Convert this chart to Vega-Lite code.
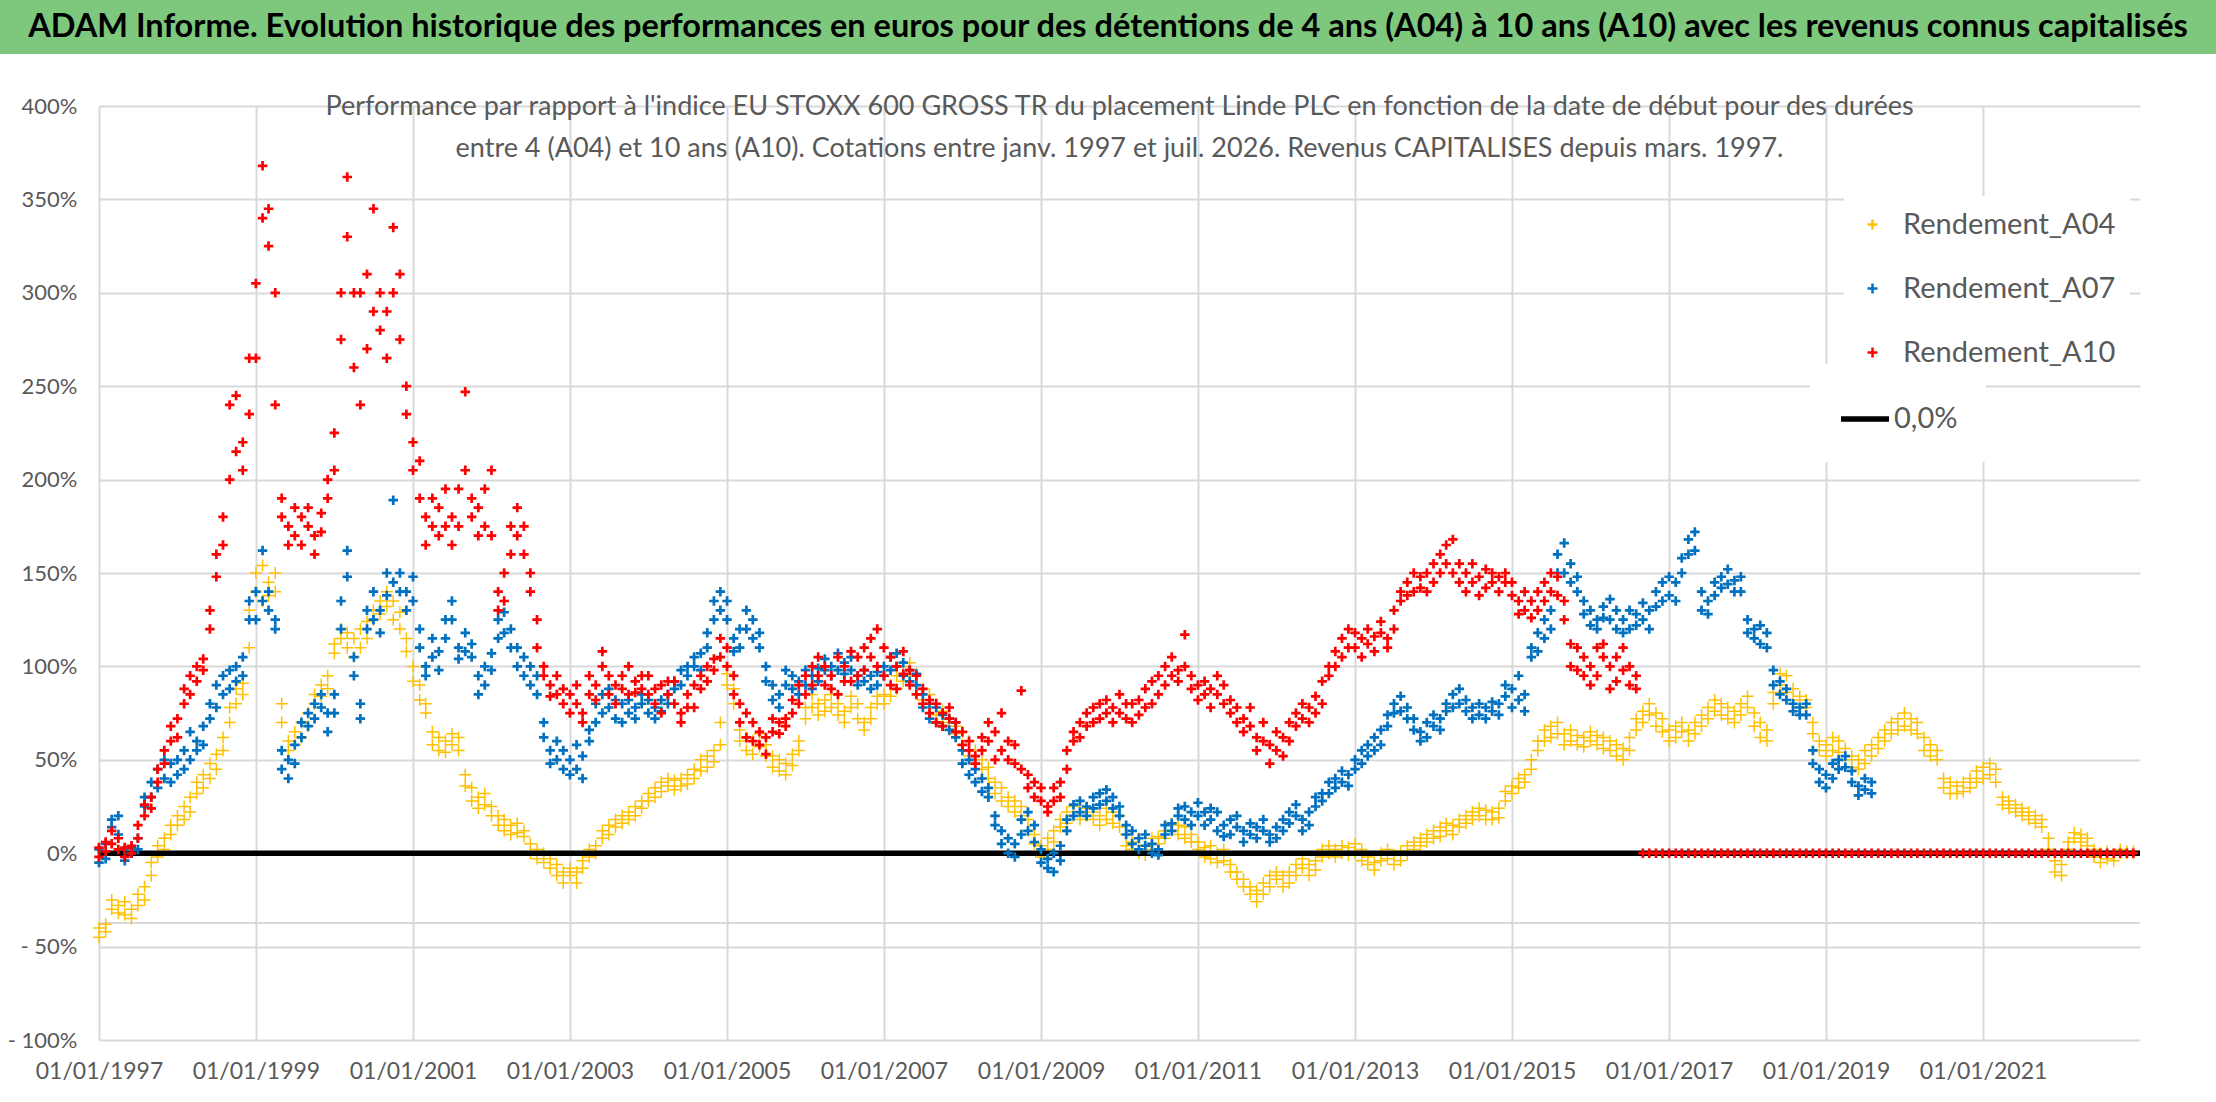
{
  "$schema": "https://vega.github.io/schema/vega-lite/v6.json",
  "background": "white",
  "padding": 0,
  "spacing": 39,
  "config": {"view": {"stroke": null}, "font": "Lato"},
  "datasets": {
    "perf": [
      {"m":"1997-01","a":-45,"a2":-40,"b":2,"b2":-5,"c":3,"c2":-2},
      {"m":"1997-02","a":-38,"a2":-42,"b":5,"b2":-3,"c":6,"c2":1},
      {"m":"1997-03","a":-30,"a2":-25,"b":18,"b2":14,"c":12,"c2":5},
      {"m":"1997-04","a":-28,"a2":-32,"b":20,"b2":10,"c":2,"c2":8},
      {"m":"1997-05","a":-26,"a2":-33,"b":2,"b2":-4,"c":-2,"c2":3},
      {"m":"1997-06","a":-30,"a2":-35,"b":3,"b2":0,"c":4,"c2":0},
      {"m":"1997-07","a":-28,"a2":-22,"b":8,"b2":2,"c":15,"c2":8},
      {"m":"1997-08","a":-25,"a2":-18,"b":25,"b2":30,"c":26,"c2":20},
      {"m":"1997-09","a":-12,"a2":-5,"b":30,"b2":38,"c":30,"c2":24},
      {"m":"1997-10","a":-2,"a2":4,"b":35,"b2":45,"c":45,"c2":38},
      {"m":"1997-11","a":2,"a2":8,"b":50,"b2":40,"c":55,"c2":48},
      {"m":"1997-12","a":10,"a2":15,"b":48,"b2":38,"c":68,"c2":60},
      {"m":"1998-01","a":15,"a2":20,"b":50,"b2":42,"c":72,"c2":62},
      {"m":"1998-02","a":18,"a2":25,"b":55,"b2":45,"c":88,"c2":80},
      {"m":"1998-03","a":22,"a2":30,"b":65,"b2":50,"c":95,"c2":85},
      {"m":"1998-04","a":32,"a2":38,"b":60,"b2":55,"c":100,"c2":92},
      {"m":"1998-05","a":35,"a2":42,"b":68,"b2":58,"c":104,"c2":98},
      {"m":"1998-06","a":40,"a2":48,"b":80,"b2":72,"c":130,"c2":120},
      {"m":"1998-07","a":45,"a2":53,"b":90,"b2":78,"c":160,"c2":148},
      {"m":"1998-08","a":55,"a2":62,"b":95,"b2":85,"c":180,"c2":165},
      {"m":"1998-09","a":70,"a2":78,"b":98,"b2":88,"c":200,"c2":240},
      {"m":"1998-10","a":80,"a2":88,"b":100,"b2":92,"c":215,"c2":245},
      {"m":"1998-11","a":85,"a2":91,"b":105,"b2":95,"c":205,"c2":220},
      {"m":"1998-12","a":110,"a2":130,"b":125,"b2":135,"c":235,"c2":265},
      {"m":"1999-01","a":140,"a2":150,"b":140,"b2":125,"c":265,"c2":305},
      {"m":"1999-02","a":135,"a2":154,"b":135,"b2":162,"c":340,"c2":368},
      {"m":"1999-03","a":145,"a2":138,"b":130,"b2":140,"c":325,"c2":345},
      {"m":"1999-04","a":150,"a2":140,"b":125,"b2":120,"c":240,"c2":300},
      {"m":"1999-05","a":80,"a2":70,"b":55,"b2":45,"c":180,"c2":190},
      {"m":"1999-06","a":60,"a2":55,"b":50,"b2":40,"c":175,"c2":165},
      {"m":"1999-07","a":65,"a2":58,"b":58,"b2":48,"c":185,"c2":170},
      {"m":"1999-08","a":70,"a2":62,"b":62,"b2":70,"c":165,"c2":180},
      {"m":"1999-09","a":75,"a2":68,"b":68,"b2":75,"c":175,"c2":185},
      {"m":"1999-10","a":85,"a2":80,"b":80,"b2":72,"c":170,"c2":160},
      {"m":"1999-11","a":90,"a2":84,"b":78,"b2":85,"c":182,"c2":172},
      {"m":"1999-12","a":95,"a2":88,"b":75,"b2":65,"c":190,"c2":200},
      {"m":"2000-01","a":107,"a2":112,"b":85,"b2":75,"c":205,"c2":225},
      {"m":"2000-02","a":115,"a2":120,"b":120,"b2":135,"c":275,"c2":300},
      {"m":"2000-03","a":110,"a2":118,"b":148,"b2":162,"c":330,"c2":362},
      {"m":"2000-04","a":105,"a2":115,"b":95,"b2":105,"c":300,"c2":260},
      {"m":"2000-05","a":120,"a2":110,"b":80,"b2":72,"c":300,"c2":240},
      {"m":"2000-06","a":124,"a2":115,"b":120,"b2":130,"c":310,"c2":270},
      {"m":"2000-07","a":125,"a2":130,"b":125,"b2":140,"c":345,"c2":290},
      {"m":"2000-08","a":135,"a2":128,"b":130,"b2":118,"c":280,"c2":300},
      {"m":"2000-09","a":140,"a2":132,"b":138,"b2":150,"c":265,"c2":290},
      {"m":"2000-10","a":135,"a2":125,"b":145,"b2":189,"c":300,"c2":335},
      {"m":"2000-11","a":120,"a2":129,"b":150,"b2":140,"c":310,"c2":275},
      {"m":"2000-12","a":115,"a2":108,"b":140,"b2":130,"c":250,"c2":235},
      {"m":"2001-01","a":100,"a2":92,"b":148,"b2":135,"c":220,"c2":205},
      {"m":"2001-02","a":90,"a2":82,"b":120,"b2":110,"c":210,"c2":190},
      {"m":"2001-03","a":80,"a2":75,"b":100,"b2":95,"c":180,"c2":165},
      {"m":"2001-04","a":65,"a2":58,"b":115,"b2":105,"c":190,"c2":175},
      {"m":"2001-05","a":62,"a2":55,"b":108,"b2":98,"c":170,"c2":185},
      {"m":"2001-06","a":60,"a2":54,"b":125,"b2":115,"c":175,"c2":195},
      {"m":"2001-07","a":58,"a2":64,"b":135,"b2":125,"c":165,"c2":180},
      {"m":"2001-08","a":55,"a2":62,"b":110,"b2":104,"c":195,"c2":175},
      {"m":"2001-09","a":42,"a2":36,"b":118,"b2":108,"c":205,"c2":247},
      {"m":"2001-10","a":35,"a2":28,"b":105,"b2":112,"c":190,"c2":180},
      {"m":"2001-11","a":30,"a2":24,"b":95,"b2":85,"c":170,"c2":185},
      {"m":"2001-12","a":32,"a2":26,"b":90,"b2":100,"c":175,"c2":195},
      {"m":"2002-01","a":25,"a2":20,"b":107,"b2":98,"c":205,"c2":170},
      {"m":"2002-02","a":20,"a2":15,"b":125,"b2":115,"c":140,"c2":130},
      {"m":"2002-03","a":18,"a2":12,"b":129,"b2":118,"c":150,"c2":135},
      {"m":"2002-04","a":15,"a2":10,"b":120,"b2":110,"c":160,"c2":175},
      {"m":"2002-05","a":16,"a2":11,"b":110,"b2":100,"c":185,"c2":170},
      {"m":"2002-06","a":12,"a2":9,"b":105,"b2":95,"c":175,"c2":160},
      {"m":"2002-07","a":5,"a2":0,"b":100,"b2":90,"c":150,"c2":140},
      {"m":"2002-08","a":2,"a2":-3,"b":95,"b2":85,"c":125,"c2":110},
      {"m":"2002-09","a":0,"a2":-5,"b":70,"b2":62,"c":100,"c2":95},
      {"m":"2002-10","a":-3,"a2":-8,"b":55,"b2":48,"c":90,"c2":84},
      {"m":"2002-11","a":-6,"a2":-12,"b":60,"b2":50,"c":85,"c2":95},
      {"m":"2002-12","a":-10,"a2":-16,"b":45,"b2":55,"c":88,"c2":80},
      {"m":"2003-01","a":-12,"a2":-8,"b":50,"b2":42,"c":85,"c2":75},
      {"m":"2003-02","a":-16,"a2":-10,"b":58,"b2":45,"c":90,"c2":80},
      {"m":"2003-03","a":-8,"a2":-4,"b":40,"b2":52,"c":75,"c2":70},
      {"m":"2003-04","a":-2,"a2":2,"b":60,"b2":66,"c":85,"c2":95},
      {"m":"2003-05","a":4,"a2":0,"b":70,"b2":80,"c":90,"c2":82},
      {"m":"2003-06","a":8,"a2":12,"b":75,"b2":85,"c":100,"c2":108},
      {"m":"2003-07","a":10,"a2":15,"b":78,"b2":88,"c":95,"c2":85},
      {"m":"2003-08","a":14,"a2":18,"b":72,"b2":82,"c":90,"c2":80},
      {"m":"2003-09","a":20,"a2":16,"b":80,"b2":70,"c":95,"c2":88},
      {"m":"2003-10","a":22,"a2":18,"b":82,"b2":75,"c":85,"c2":100},
      {"m":"2003-11","a":25,"a2":20,"b":78,"b2":72,"c":92,"c2":86},
      {"m":"2003-12","a":28,"a2":24,"b":80,"b2":85,"c":88,"c2":95},
      {"m":"2004-01","a":32,"a2":28,"b":75,"b2":82,"c":95,"c2":85},
      {"m":"2004-02","a":35,"a2":30,"b":78,"b2":72,"c":80,"c2":88},
      {"m":"2004-03","a":38,"a2":33,"b":82,"b2":76,"c":90,"c2":75},
      {"m":"2004-04","a":36,"a2":40,"b":80,"b2":85,"c":85,"c2":92},
      {"m":"2004-05","a":34,"a2":39,"b":88,"b2":92,"c":80,"c2":92},
      {"m":"2004-06","a":40,"a2":36,"b":90,"b2":98,"c":75,"c2":70},
      {"m":"2004-07","a":42,"a2":37,"b":95,"b2":100,"c":85,"c2":78},
      {"m":"2004-08","a":45,"a2":40,"b":100,"b2":105,"c":78,"c2":90},
      {"m":"2004-09","a":50,"a2":44,"b":98,"b2":107,"c":88,"c2":95},
      {"m":"2004-10","a":52,"a2":46,"b":110,"b2":118,"c":92,"c2":100},
      {"m":"2004-11","a":55,"a2":49,"b":125,"b2":135,"c":98,"c2":104},
      {"m":"2004-12","a":58,"a2":70,"b":140,"b2":130,"c":105,"c2":115},
      {"m":"2005-01","a":90,"a2":96,"b":135,"b2":125,"c":110,"c2":100},
      {"m":"2005-02","a":80,"a2":88,"b":115,"b2":108,"c":95,"c2":85},
      {"m":"2005-03","a":66,"a2":60,"b":120,"b2":110,"c":80,"c2":70},
      {"m":"2005-04","a":62,"a2":55,"b":130,"b2":120,"c":75,"c2":62},
      {"m":"2005-05","a":60,"a2":53,"b":125,"b2":115,"c":70,"c2":60},
      {"m":"2005-06","a":64,"a2":57,"b":118,"b2":110,"c":58,"c2":65},
      {"m":"2005-07","a":58,"a2":52,"b":100,"b2":92,"c":53,"c2":62},
      {"m":"2005-08","a":52,"a2":46,"b":90,"b2":82,"c":65,"c2":72},
      {"m":"2005-09","a":50,"a2":44,"b":85,"b2":78,"c":70,"c2":64},
      {"m":"2005-10","a":48,"a2":42,"b":90,"b2":98,"c":72,"c2":68},
      {"m":"2005-11","a":53,"a2":47,"b":95,"b2":88,"c":75,"c2":82},
      {"m":"2005-12","a":60,"a2":55,"b":92,"b2":85,"c":80,"c2":90},
      {"m":"2006-01","a":72,"a2":78,"b":90,"b2":98,"c":85,"c2":95},
      {"m":"2006-02","a":78,"a2":85,"b":95,"b2":88,"c":90,"c2":100},
      {"m":"2006-03","a":80,"a2":74,"b":92,"b2":99,"c":95,"c2":105},
      {"m":"2006-04","a":82,"a2":76,"b":98,"b2":104,"c":90,"c2":100},
      {"m":"2006-05","a":85,"a2":78,"b":100,"b2":95,"c":95,"c2":88},
      {"m":"2006-06","a":80,"a2":74,"b":107,"b2":98,"c":85,"c2":105},
      {"m":"2006-07","a":76,"a2":70,"b":102,"b2":96,"c":100,"c2":92},
      {"m":"2006-08","a":78,"a2":84,"b":98,"b2":105,"c":92,"c2":108},
      {"m":"2006-09","a":72,"a2":80,"b":95,"b2":90,"c":105,"c2":95},
      {"m":"2006-10","a":70,"a2":66,"b":92,"b2":98,"c":110,"c2":98},
      {"m":"2006-11","a":78,"a2":72,"b":95,"b2":88,"c":115,"c2":105},
      {"m":"2006-12","a":84,"a2":80,"b":97,"b2":90,"c":120,"c2":100},
      {"m":"2007-01","a":85,"a2":80,"b":100,"b2":95,"c":110,"c2":95},
      {"m":"2007-02","a":90,"a2":84,"b":105,"b2":98,"c":105,"c2":90},
      {"m":"2007-03","a":95,"a2":88,"b":107,"b2":100,"c":100,"c2":88},
      {"m":"2007-04","a":100,"a2":92,"b":95,"b2":102,"c":108,"c2":96},
      {"m":"2007-05","a":102,"a2":95,"b":98,"b2":92,"c":98,"c2":90},
      {"m":"2007-06","a":96,"a2":90,"b":90,"b2":96,"c":95,"c2":85},
      {"m":"2007-07","a":88,"a2":82,"b":85,"b2":78,"c":88,"c2":80},
      {"m":"2007-08","a":85,"a2":78,"b":80,"b2":72,"c":82,"c2":75},
      {"m":"2007-09","a":80,"a2":74,"b":78,"b2":70,"c":80,"c2":70},
      {"m":"2007-10","a":76,"a2":70,"b":74,"b2":68,"c":75,"c2":68},
      {"m":"2007-11","a":72,"a2":66,"b":72,"b2":66,"c":78,"c2":72},
      {"m":"2007-12","a":68,"a2":64,"b":70,"b2":62,"c":70,"c2":65},
      {"m":"2008-01","a":65,"a2":58,"b":55,"b2":48,"c":65,"c2":58},
      {"m":"2008-02","a":60,"a2":52,"b":50,"b2":42,"c":60,"c2":55},
      {"m":"2008-03","a":55,"a2":48,"b":45,"b2":38,"c":52,"c2":48},
      {"m":"2008-04","a":50,"a2":45,"b":40,"b2":33,"c":55,"c2":62},
      {"m":"2008-05","a":46,"a2":40,"b":35,"b2":30,"c":70,"c2":60},
      {"m":"2008-06","a":38,"a2":32,"b":20,"b2":15,"c":65,"c2":50},
      {"m":"2008-07","a":35,"a2":28,"b":12,"b2":5,"c":55,"c2":75},
      {"m":"2008-08","a":30,"a2":25,"b":8,"b2":0,"c":60,"c2":50},
      {"m":"2008-09","a":28,"a2":22,"b":5,"b2":-2,"c":58,"c2":48},
      {"m":"2008-10","a":25,"a2":20,"b":10,"b2":18,"c":45,"c2":87},
      {"m":"2008-11","a":18,"a2":12,"b":22,"b2":12,"c":42,"c2":35},
      {"m":"2008-12","a":10,"a2":5,"b":15,"b2":6,"c":38,"c2":30},
      {"m":"2009-01","a":4,"a2":-2,"b":2,"b2":-5,"c":35,"c2":28},
      {"m":"2009-02","a":2,"a2":8,"b":-8,"b2":-3,"c":25,"c2":22},
      {"m":"2009-03","a":6,"a2":12,"b":0,"b2":-10,"c":28,"c2":35},
      {"m":"2009-04","a":14,"a2":18,"b":4,"b2":-4,"c":30,"c2":38},
      {"m":"2009-05","a":16,"a2":22,"b":12,"b2":18,"c":45,"c2":55},
      {"m":"2009-06","a":20,"a2":25,"b":20,"b2":26,"c":60,"c2":65},
      {"m":"2009-07","a":18,"a2":22,"b":22,"b2":28,"c":70,"c2":62},
      {"m":"2009-08","a":20,"a2":24,"b":25,"b2":20,"c":75,"c2":68},
      {"m":"2009-09","a":22,"a2":18,"b":30,"b2":24,"c":78,"c2":70},
      {"m":"2009-10","a":20,"a2":15,"b":32,"b2":26,"c":72,"c2":80},
      {"m":"2009-11","a":18,"a2":24,"b":28,"b2":34,"c":82,"c2":75},
      {"m":"2009-12","a":16,"a2":22,"b":30,"b2":24,"c":78,"c2":70},
      {"m":"2010-01","a":14,"a2":20,"b":25,"b2":20,"c":85,"c2":75},
      {"m":"2010-02","a":10,"a2":4,"b":15,"b2":10,"c":80,"c2":72},
      {"m":"2010-03","a":6,"a2":2,"b":12,"b2":5,"c":70,"c2":80},
      {"m":"2010-04","a":8,"a2":0,"b":8,"b2":2,"c":82,"c2":74},
      {"m":"2010-05","a":4,"a2":-1,"b":10,"b2":4,"c":88,"c2":78},
      {"m":"2010-06","a":2,"a2":8,"b":5,"b2":0,"c":92,"c2":80},
      {"m":"2010-07","a":5,"a2":9,"b":2,"b2":-1,"c":85,"c2":95},
      {"m":"2010-08","a":8,"a2":12,"b":10,"b2":15,"c":100,"c2":90},
      {"m":"2010-09","a":12,"a2":16,"b":16,"b2":12,"c":105,"c2":95},
      {"m":"2010-10","a":10,"a2":15,"b":20,"b2":24,"c":98,"c2":92},
      {"m":"2010-11","a":14,"a2":8,"b":25,"b2":18,"c":117,"c2":100},
      {"m":"2010-12","a":10,"a2":6,"b":22,"b2":15,"c":95,"c2":88},
      {"m":"2011-01","a":6,"a2":2,"b":20,"b2":27,"c":90,"c2":82},
      {"m":"2011-02","a":3,"a2":-2,"b":15,"b2":22,"c":85,"c2":92},
      {"m":"2011-03","a":4,"a2":-3,"b":18,"b2":24,"c":88,"c2":78},
      {"m":"2011-04","a":0,"a2":-5,"b":22,"b2":12,"c":95,"c2":85},
      {"m":"2011-05","a":2,"a2":-4,"b":15,"b2":9,"c":80,"c2":90},
      {"m":"2011-06","a":-6,"a2":-10,"b":18,"b2":10,"c":82,"c2":75},
      {"m":"2011-07","a":-10,"a2":-14,"b":20,"b2":14,"c":78,"c2":70},
      {"m":"2011-08","a":-14,"a2":-18,"b":12,"b2":6,"c":72,"c2":65},
      {"m":"2011-09","a":-18,"a2":-22,"b":10,"b2":16,"c":68,"c2":78},
      {"m":"2011-10","a":-20,"a2":-26,"b":8,"b2":14,"c":62,"c2":55},
      {"m":"2011-11","a":-22,"a2":-16,"b":12,"b2":18,"c":60,"c2":70},
      {"m":"2011-12","a":-12,"a2":-18,"b":10,"b2":6,"c":48,"c2":58},
      {"m":"2012-01","a":-14,"a2":-10,"b":14,"b2":8,"c":55,"c2":65},
      {"m":"2012-02","a":-18,"a2":-12,"b":12,"b2":18,"c":62,"c2":52},
      {"m":"2012-03","a":-16,"a2":-10,"b":16,"b2":22,"c":70,"c2":60},
      {"m":"2012-04","a":-12,"a2":-6,"b":20,"b2":26,"c":75,"c2":68},
      {"m":"2012-05","a":-8,"a2":-3,"b":12,"b2":18,"c":72,"c2":80},
      {"m":"2012-06","a":-6,"a2":-12,"b":15,"b2":22,"c":78,"c2":70},
      {"m":"2012-07","a":-4,"a2":-9,"b":25,"b2":30,"c":84,"c2":75},
      {"m":"2012-08","a":-2,"a2":2,"b":32,"b2":28,"c":92,"c2":80},
      {"m":"2012-09","a":0,"a2":4,"b":38,"b2":32,"c":100,"c2":95},
      {"m":"2012-10","a":2,"a2":-2,"b":40,"b2":35,"c":108,"c2":100},
      {"m":"2012-11","a":4,"a2":0,"b":44,"b2":38,"c":115,"c2":105},
      {"m":"2012-12","a":3,"a2":-1,"b":42,"b2":36,"c":120,"c2":110},
      {"m":"2013-01","a":5,"a2":0,"b":50,"b2":45,"c":110,"c2":118},
      {"m":"2013-02","a":2,"a2":-4,"b":55,"b2":48,"c":105,"c2":115},
      {"m":"2013-03","a":-2,"a2":-6,"b":58,"b2":52,"c":112,"c2":120},
      {"m":"2013-04","a":-5,"a2":-9,"b":62,"b2":55,"c":108,"c2":116},
      {"m":"2013-05","a":0,"a2":-4,"b":66,"b2":58,"c":118,"c2":124},
      {"m":"2013-06","a":2,"a2":-3,"b":74,"b2":68,"c":115,"c2":110},
      {"m":"2013-07","a":-1,"a2":-6,"b":80,"b2":75,"c":120,"c2":130},
      {"m":"2013-08","a":1,"a2":-4,"b":84,"b2":76,"c":135,"c2":140},
      {"m":"2013-09","a":4,"a2":-1,"b":78,"b2":72,"c":145,"c2":138},
      {"m":"2013-10","a":6,"a2":2,"b":72,"b2":66,"c":150,"c2":140},
      {"m":"2013-11","a":8,"a2":4,"b":65,"b2":60,"c":142,"c2":148},
      {"m":"2013-12","a":10,"a2":6,"b":62,"b2":70,"c":140,"c2":150},
      {"m":"2014-01","a":12,"a2":8,"b":68,"b2":74,"c":155,"c2":145},
      {"m":"2014-02","a":14,"a2":9,"b":72,"b2":66,"c":160,"c2":150},
      {"m":"2014-03","a":12,"a2":16,"b":76,"b2":80,"c":165,"c2":155},
      {"m":"2014-04","a":10,"a2":15,"b":85,"b2":78,"c":168,"c2":150},
      {"m":"2014-05","a":14,"a2":18,"b":88,"b2":80,"c":155,"c2":145},
      {"m":"2014-06","a":16,"a2":20,"b":82,"b2":76,"c":150,"c2":140},
      {"m":"2014-07","a":18,"a2":22,"b":78,"b2":72,"c":145,"c2":155},
      {"m":"2014-08","a":20,"a2":24,"b":74,"b2":80,"c":148,"c2":138},
      {"m":"2014-09","a":18,"a2":23,"b":78,"b2":72,"c":152,"c2":142},
      {"m":"2014-10","a":22,"a2":18,"b":76,"b2":81,"c":145,"c2":150},
      {"m":"2014-11","a":24,"a2":19,"b":80,"b2":74,"c":140,"c2":148},
      {"m":"2014-12","a":28,"a2":33,"b":84,"b2":90,"c":150,"c2":145},
      {"m":"2015-01","a":32,"a2":36,"b":88,"b2":78,"c":145,"c2":138},
      {"m":"2015-02","a":35,"a2":40,"b":82,"b2":95,"c":135,"c2":128},
      {"m":"2015-03","a":38,"a2":42,"b":85,"b2":76,"c":130,"c2":140},
      {"m":"2015-04","a":45,"a2":50,"b":110,"b2":105,"c":126,"c2":135},
      {"m":"2015-05","a":55,"a2":60,"b":118,"b2":108,"c":140,"c2":130},
      {"m":"2015-06","a":60,"a2":66,"b":125,"b2":115,"c":145,"c2":135},
      {"m":"2015-07","a":62,"a2":68,"b":130,"b2":120,"c":140,"c2":150},
      {"m":"2015-08","a":64,"a2":70,"b":150,"b2":160,"c":148,"c2":138},
      {"m":"2015-09","a":58,"a2":64,"b":166,"b2":150,"c":135,"c2":125},
      {"m":"2015-10","a":60,"a2":66,"b":155,"b2":145,"c":112,"c2":100},
      {"m":"2015-11","a":58,"a2":63,"b":148,"b2":140,"c":98,"c2":110},
      {"m":"2015-12","a":62,"a2":57,"b":135,"b2":128,"c":105,"c2":95},
      {"m":"2016-01","a":60,"a2":65,"b":130,"b2":122,"c":100,"c2":90},
      {"m":"2016-02","a":58,"a2":63,"b":125,"b2":120,"c":110,"c2":95},
      {"m":"2016-03","a":56,"a2":62,"b":132,"b2":126,"c":105,"c2":112},
      {"m":"2016-04","a":60,"a2":55,"b":136,"b2":125,"c":100,"c2":88},
      {"m":"2016-05","a":52,"a2":58,"b":130,"b2":120,"c":92,"c2":105},
      {"m":"2016-06","a":50,"a2":56,"b":125,"b2":118,"c":98,"c2":110},
      {"m":"2016-07","a":55,"a2":62,"b":120,"b2":130,"c":90,"c2":100},
      {"m":"2016-08","a":66,"a2":72,"b":128,"b2":122,"c":88,"c2":95},
      {"m":"2016-09","a":70,"a2":76,"b":134,"b2":125,"c":0},
      {"m":"2016-10","a":74,"a2":80,"b":130,"b2":120,"c":0},
      {"m":"2016-11","a":68,"a2":75,"b":140,"b2":132,"c":0},
      {"m":"2016-12","a":65,"a2":72,"b":145,"b2":135,"c":0},
      {"m":"2017-01","a":60,"a2":66,"b":138,"b2":148,"c":0},
      {"m":"2017-02","a":62,"a2":68,"b":145,"b2":135,"c":0},
      {"m":"2017-03","a":65,"a2":70,"b":150,"b2":158,"c":0},
      {"m":"2017-04","a":60,"a2":66,"b":160,"b2":168,"c":0},
      {"m":"2017-05","a":64,"a2":70,"b":172,"b2":162,"c":0},
      {"m":"2017-06","a":68,"a2":74,"b":140,"b2":130,"c":0},
      {"m":"2017-07","a":72,"a2":78,"b":128,"b2":135,"c":0},
      {"m":"2017-08","a":76,"a2":82,"b":138,"b2":145,"c":0},
      {"m":"2017-09","a":80,"a2":74,"b":148,"b2":142,"c":0},
      {"m":"2017-10","a":78,"a2":72,"b":152,"b2":144,"c":0},
      {"m":"2017-11","a":70,"a2":76,"b":146,"b2":140,"c":0},
      {"m":"2017-12","a":74,"a2":80,"b":140,"b2":148,"c":0},
      {"m":"2018-01","a":78,"a2":84,"b":125,"b2":118,"c":0},
      {"m":"2018-02","a":75,"a2":68,"b":115,"b2":120,"c":0},
      {"m":"2018-03","a":70,"a2":62,"b":122,"b2":112,"c":0},
      {"m":"2018-04","a":66,"a2":60,"b":110,"b2":118,"c":0},
      {"m":"2018-05","a":80,"a2":86,"b":98,"b2":90,"c":0},
      {"m":"2018-06","a":90,"a2":96,"b":92,"b2":85,"c":0},
      {"m":"2018-07","a":95,"a2":86,"b":88,"b2":82,"c":0},
      {"m":"2018-08","a":88,"a2":82,"b":80,"b2":76,"c":0},
      {"m":"2018-09","a":84,"a2":78,"b":78,"b2":74,"c":0},
      {"m":"2018-10","a":82,"a2":78,"b":80,"b2":74,"c":0},
      {"m":"2018-11","a":70,"a2":64,"b":55,"b2":48,"c":0},
      {"m":"2018-12","a":60,"a2":55,"b":45,"b2":38,"c":0},
      {"m":"2019-01","a":58,"a2":52,"b":35,"b2":42,"c":0},
      {"m":"2019-02","a":62,"a2":55,"b":40,"b2":48,"c":0},
      {"m":"2019-03","a":60,"a2":54,"b":50,"b2":45,"c":0},
      {"m":"2019-04","a":56,"a2":50,"b":52,"b2":46,"c":0},
      {"m":"2019-05","a":52,"a2":46,"b":44,"b2":38,"c":0},
      {"m":"2019-06","a":50,"a2":45,"b":36,"b2":31,"c":0},
      {"m":"2019-07","a":55,"a2":48,"b":40,"b2":34,"c":0},
      {"m":"2019-08","a":58,"a2":52,"b":38,"b2":32,"c":0},
      {"m":"2019-09","a":62,"a2":56,"c":0},
      {"m":"2019-10","a":66,"a2":60,"c":0},
      {"m":"2019-11","a":70,"a2":64,"c":0},
      {"m":"2019-12","a":72,"a2":66,"c":0},
      {"m":"2020-01","a":75,"a2":68,"c":0},
      {"m":"2020-02","a":72,"a2":66,"c":0},
      {"m":"2020-03","a":70,"a2":64,"c":0},
      {"m":"2020-04","a":62,"a2":55,"c":0},
      {"m":"2020-05","a":58,"a2":52,"c":0},
      {"m":"2020-06","a":55,"a2":50,"c":0},
      {"m":"2020-07","a":40,"a2":35,"c":0},
      {"m":"2020-08","a":38,"a2":32,"c":0},
      {"m":"2020-09","a":36,"a2":32,"c":0},
      {"m":"2020-10","a":38,"a2":33,"c":0},
      {"m":"2020-11","a":40,"a2":35,"c":0},
      {"m":"2020-12","a":44,"a2":38,"c":0},
      {"m":"2021-01","a":46,"a2":40,"c":0},
      {"m":"2021-02","a":48,"a2":42,"c":0},
      {"m":"2021-03","a":45,"a2":38,"c":0},
      {"m":"2021-04","a":30,"a2":26,"c":0},
      {"m":"2021-05","a":28,"a2":24,"c":0},
      {"m":"2021-06","a":26,"a2":22,"c":0},
      {"m":"2021-07","a":24,"a2":20,"c":0},
      {"m":"2021-08","a":22,"a2":18,"c":0},
      {"m":"2021-09","a":20,"a2":16,"c":0},
      {"m":"2021-10","a":18,"a2":14,"c":0},
      {"m":"2021-11","a":8,"a2":2,"c":0},
      {"m":"2021-12","a":-4,"a2":-10,"c":0},
      {"m":"2022-01","a":-12,"a2":-6,"c":0},
      {"m":"2022-02","a":2,"a2":6,"c":0},
      {"m":"2022-03","a":8,"a2":11,"c":0},
      {"m":"2022-04","a":6,"a2":10,"c":0},
      {"m":"2022-05","a":4,"a2":8,"c":0},
      {"m":"2022-06","a":-2,"a2":2,"c":0},
      {"m":"2022-07","a":-5,"a2":0,"c":0},
      {"m":"2022-08","a":-3,"a2":1,"c":0},
      {"m":"2022-09","a":-4,"a2":-1,"c":0},
      {"m":"2022-10","a":0,"a2":2,"c":0},
      {"m":"2022-11","a":1,"a2":0,"c":0},
      {"m":"2022-12","a":0,"a2":1,"c":0}
    ]
  },
  "vconcat": [
    {
      "width": 2117,
      "height": 54,
      "data": {"values": [{}]},
      "layer": [
        {
          "mark": {"type": "rect", "color": "#7DC87D"},
          "encoding": {
            "x": {"datum": -99, "type": "quantitative", "scale": {"domain": [0, 2117], "nice": false, "zero": false}, "axis": null},
            "x2": {"datum": 2117},
            "y": {"datum": 0, "type": "quantitative", "scale": {"domain": [0, 1], "nice": false}, "axis": null},
            "y2": {"datum": 1}
          }
        },
        {
          "mark": {
            "type": "text",
            "text": "ADAM Informe. Evolution historique des performances en euros pour des détentions de 4 ans (A04) à 10 ans (A10) avec les revenus connus capitalisés",
            "font": "Lato",
            "fontSize": 32.5,
            "fontWeight": "bold",
            "color": "black",
            "align": "center",
            "baseline": "middle"
          },
          "encoding": {
            "x": {"datum": 1009, "type": "quantitative"},
            "y": {"datum": 0.5, "type": "quantitative"}
          }
        }
      ]
    },
    {
      "width": 2041,
      "height": 934,
      "title": {
        "text": [
          "Performance par rapport à l'indice EU STOXX 600 GROSS TR  du placement Linde PLC en fonction de la date de début pour des durées",
          "entre 4 (A04) et 10 ans (A10). Cotations entre janv. 1997 et juil. 2026. Revenus CAPITALISES depuis mars. 1997."
        ],
        "font": "Lato",
        "fontSize": 27,
        "fontWeight": "normal",
        "color": "#595959",
        "lineHeight": 42,
        "anchor": "middle",
        "offset": -68
      },
      "data": {"name": "perf"},
      "layer": [
        {
          "data": {"values": [{}]},
          "mark": {"type": "rule", "color": "#D9D9D9", "strokeWidth": 2},
          "encoding": {"y": {"datum": -37.4, "type": "quantitative"}}
        },
        {
          "transform": [
            {"fold": ["a", "a2"], "as": ["k", "v"]},
            {"filter": "isValid(datum.v)"}
          ],
          "mark": {"type": "point", "shape": "M-1,0H1M0,-1V1", "filled": false, "size": 144, "strokeWidth": 1.5, "opacity": 1},
          "encoding": {
            "x": {
              "field": "m",
              "type": "temporal",
              "scale": {
                "type": "utc",
                "domain": [
                  {"year": 1997, "month": 1, "date": 1, "utc": true},
                  {"year": 2023, "month": 1, "date": 1, "utc": true}
                ]
              },
              "axis": {
                "title": null,
                "values": [
                  {"year": 1997, "month": 1, "date": 1, "utc": true},
                  {"year": 1999, "month": 1, "date": 1, "utc": true},
                  {"year": 2001, "month": 1, "date": 1, "utc": true},
                  {"year": 2003, "month": 1, "date": 1, "utc": true},
                  {"year": 2005, "month": 1, "date": 1, "utc": true},
                  {"year": 2007, "month": 1, "date": 1, "utc": true},
                  {"year": 2009, "month": 1, "date": 1, "utc": true},
                  {"year": 2011, "month": 1, "date": 1, "utc": true},
                  {"year": 2013, "month": 1, "date": 1, "utc": true},
                  {"year": 2015, "month": 1, "date": 1, "utc": true},
                  {"year": 2017, "month": 1, "date": 1, "utc": true},
                  {"year": 2019, "month": 1, "date": 1, "utc": true},
                  {"year": 2021, "month": 1, "date": 1, "utc": true}
                ],
                "format": "%d/%m/%Y",
                "labelFont": "Lato",
                "labelFontSize": 23,
                "labelColor": "#595959",
                "labelPadding": 20,
                "labelFlush": false,
                "labelOverlap": false,
                "ticks": false,
                "domain": false,
                "grid": true,
                "gridColor": "#D9D9D9",
                "gridWidth": 2
              }
            },
            "y": {
              "field": "v",
              "type": "quantitative",
              "scale": {"domain": [-100, 400], "nice": false, "zero": false},
              "axis": {
                "title": null,
                "values": [-100, -50, 0, 50, 100, 150, 200, 250, 300, 350, 400],
                "labelExpr": "datum.value < 0 ? '- ' + abs(datum.value) + '%' : datum.value + '%'",
                "labelFont": "Lato",
                "labelFontSize": 22,
                "labelColor": "#595959",
                "labelPadding": 22,
                "ticks": false,
                "domain": false,
                "grid": true,
                "gridColor": "#D9D9D9",
                "gridWidth": 2,
                "minExtent": 99
              }
            },
            "color": {
              "datum": "Rendement_A04",
              "scale": {
                "domain": ["Rendement_A04", "Rendement_A07", "Rendement_A10"],
                "range": ["#FFC000", "#0070C0", "#FF0000"]
              },
              "legend": {
                "title": null,
                "orient": "none",
                "legendX": 1745,
                "legendY": 196,
                "fillColor": "white",
                "padding": 14,
                "rowPadding": 34,
                "labelFont": "Lato",
                "labelFontSize": 29,
                "labelColor": "#595959",
                "labelOffset": 16,
                "labelLimit": 400,
                "symbolSize": 100,
                "symbolStrokeWidth": 2.5,
                "symbolType": "M-1,0H1M0,-1V1"
              }
            }
          }
        },
        {
          "data": {"values": [{}]},
          "mark": {"type": "rule", "color": "black", "strokeWidth": 5.5},
          "encoding": {
            "y": {"datum": 0, "type": "quantitative"},
            "strokeDash": {
              "datum": "0,0%",
              "scale": {"domain": ["0,0%"], "range": [[1, 0]]},
              "legend": {
                "title": null,
                "orient": "none",
                "legendX": 1711,
                "legendY": 364,
                "fillColor": "white",
                "padding": 28,
                "labelFont": "Lato",
                "labelFontSize": 29,
                "labelColor": "#595959",
                "labelOffset": 2,
                "labelLimit": 400,
                "symbolType": "stroke",
                "symbolSize": 2304,
                "symbolStrokeWidth": 5.5,
                "symbolStrokeColor": "black",
                "symbolDash": [1, 0]
              }
            }
          }
        },
        {
          "transform": [
            {"fold": ["b", "b2"], "as": ["k", "v"]},
            {"filter": "isValid(datum.v)"}
          ],
          "mark": {"type": "point", "shape": "M-1,0H1M0,-1V1", "filled": false, "size": 90, "strokeWidth": 2.7, "opacity": 1},
          "encoding": {
            "x": {"field": "m", "type": "temporal"},
            "y": {"field": "v", "type": "quantitative"},
            "color": {"datum": "Rendement_A07"}
          }
        },
        {
          "transform": [
            {"fold": ["c", "c2"], "as": ["k", "v"]},
            {"filter": "isValid(datum.v)"}
          ],
          "mark": {"type": "point", "shape": "M-1,0H1M0,-1V1", "filled": false, "size": 90, "strokeWidth": 2.7, "opacity": 1},
          "encoding": {
            "x": {"field": "m", "type": "temporal"},
            "y": {"field": "v", "type": "quantitative"},
            "color": {"datum": "Rendement_A10"}
          }
        }
      ]
    }
  ]
}
